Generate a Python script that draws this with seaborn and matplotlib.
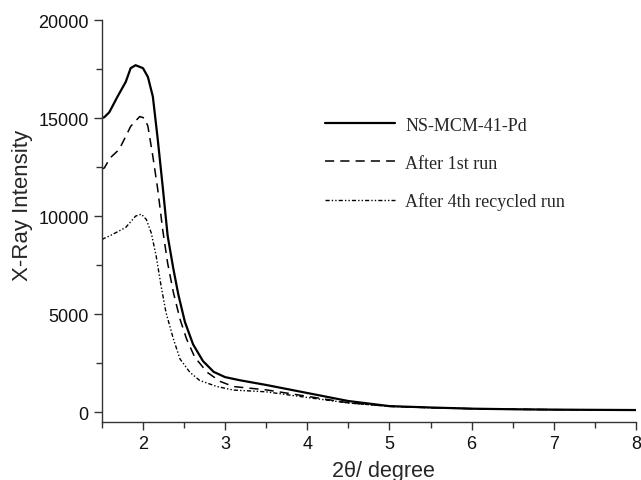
import numpy as np
import pandas as pd
import matplotlib
matplotlib.use("Agg")
import matplotlib.pyplot as plt
from matplotlib.ticker import MultipleLocator
import seaborn as sns

# 2theta positions and intensities
two_theta_fresh = [1.5, 1.53, 1.59, 1.69, 1.79, 1.85, 1.91, 2.0, 2.06, 2.12, 2.18, 2.24,
                   2.30, 2.37, 2.43, 2.51, 2.61, 2.73, 2.86, 3.0, 3.18, 3.5, 4.0, 4.5,
                   5.0, 5.5, 6.0, 6.5, 7.0, 7.5, 8.0]
intensity_fresh = [15000, 15050, 15300, 16100, 16850, 17550, 17700, 17550, 17100, 16100,
                   13900, 11500, 9000, 7300, 6000, 4600, 3450, 2600, 2050, 1780, 1620,
                   1380, 970, 560, 300, 230, 170, 140, 120, 110, 100]

two_theta_run1 = [1.5, 1.53, 1.6, 1.71, 1.79, 1.85, 1.96, 2.02, 2.06, 2.12, 2.18, 2.24,
                  2.30, 2.37, 2.45, 2.53, 2.63, 2.78, 2.94, 3.1, 3.5, 4.0, 4.5, 5.0,
                  5.5, 6.0, 6.5, 7.0, 7.5, 8.0]
intensity_run1 = [12400, 12460, 12970, 13400, 14070, 14580, 15080, 15000, 14580, 13050,
                  11350, 9300, 7600, 6100, 4750, 3730, 2800, 2030, 1560, 1300, 1130,
                  800, 470, 290, 220, 170, 140, 120, 110, 100]

two_theta_run4 = [1.5, 1.53, 1.6, 1.79, 1.91, 1.98, 2.04, 2.10, 2.16, 2.22, 2.28, 2.37,
                  2.45, 2.57, 2.69, 2.90, 3.1, 3.5, 4.0, 4.5, 5.0, 5.5, 6.0, 6.5, 7.0,
                  7.5, 8.0]
intensity_run4 = [8800, 8870, 9000, 9420, 10000, 10100, 9830, 9150, 7970, 6440, 5080,
                  3730, 2710, 2030, 1610, 1300, 1120, 1030, 740, 460, 290, 220, 170,
                  140, 120, 110, 100]

labels = ["NS-MCM-41-Pd", "After 1st run", "After 4th recycled run"]


def main():
    sns.set_style("ticks")
    plt.rcParams["font.family"] = ["Liberation Sans", "DejaVu Sans"]

    fig = plt.figure(figsize=(6.41, 4.81), dpi=100)
    ax = fig.add_axes([0.159, 0.121, 0.833, 0.835])

    sns.lineplot(x=two_theta_fresh, y=intensity_fresh, ax=ax, color="black",
                 linewidth=1.6, label=labels[0], sort=False)
    sns.lineplot(x=two_theta_run1, y=intensity_run1, ax=ax, color="black",
                 linewidth=1.1, label=labels[1], sort=False, linestyle=(0, (6, 4)))
    sns.lineplot(x=two_theta_run4, y=intensity_run4, ax=ax, color="black",
                 linewidth=1.0, label=labels[2], sort=False,
                 linestyle=(0, (3, 1.5, 1, 1.5, 1, 1.5)))

    ax.set_xlim(1.5, 8)
    ax.set_ylim(-500, 20000)
    ax.set_xticks([2, 3, 4, 5, 6, 7, 8])
    ax.set_yticks([0, 5000, 10000, 15000, 20000])
    ax.xaxis.set_minor_locator(MultipleLocator(0.5))
    ax.yaxis.set_minor_locator(MultipleLocator(2500))
    ax.tick_params(which="major", length=6, width=1, colors="#333333", labelsize=13,
                   labelcolor="#111111")
    ax.tick_params(which="minor", length=4, width=1, colors="#333333")

    sns.despine(ax=ax)
    for side in ["left", "bottom"]:
        ax.spines[side].set_color("#333333")
        ax.spines[side].set_linewidth(1)

    ax.set_xlabel("2\u03b8/ degree", fontsize=15.5)
    ax.set_ylabel("X-Ray Intensity", fontsize=16)
    ax.xaxis.set_label_coords(0.528, -0.095)
    ax.yaxis.set_label_coords(-0.13, 0.542)

    ax.legend(loc="upper left", bbox_to_anchor=(0.387, 0.80), frameon=False,
              handlelength=3.9, labelspacing=1.15, handletextpad=0.55,
              prop={"family": "Liberation Serif", "size": 13})

    fig.savefig("out.png", dpi=100)


if __name__ == "__main__":
    main()
